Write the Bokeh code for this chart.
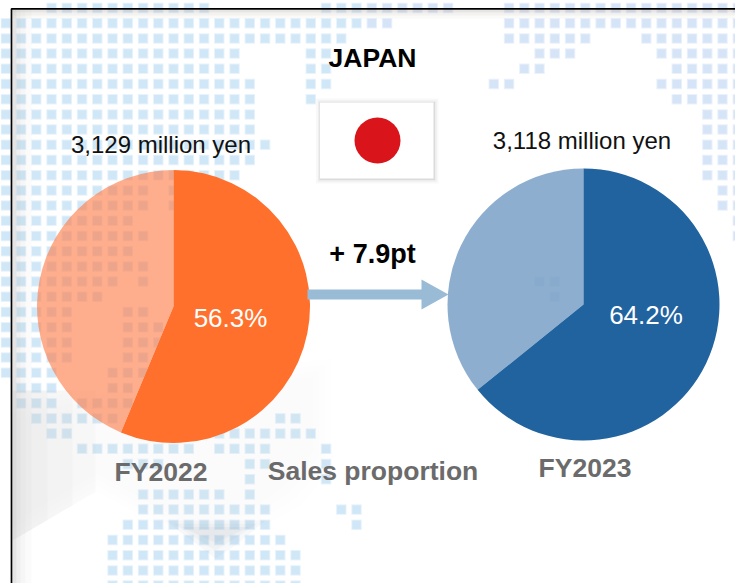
from math import pi
from bokeh.embed import file_html
from bokeh.resources import INLINE
from bokeh.plotting import figure
from bokeh.core.properties import value

# ---- chart data ----
fiscal_years = ["FY2022", "FY2023"]
japan_share = [56.3, 64.2]
share_labels = ["56.3%", "64.2%"]
sales_labels = ["3,129 million yen", "3,118 million yen"]
change_label = "+ 7.9pt"
title_label = "JAPAN"
measure_label = "Sales proportion"

# ---- decorative dotted map: row -> runs of grid columns ----
map_rows = {
    0: [(3, 13), (21, 29), (33, 48)],
    1: [(0, 25), (33, 48)], 2: [(0, 22), (33, 38), (42, 48)],
    3: [(0, 15), (20, 21), (35, 37), (43, 48)], 4: [(0, 15), (20, 21), (34, 35), (44, 48)],
    5: [(0, 16), (20, 21), (32, 33), (43, 48)], 6: [(0, 16), (20, 20), (44, 48)],
    7: [(0, 16), (46, 48)], 8: [(0, 16), (46, 48)], 9: [(0, 17), (46, 48)],
    10: [(0, 16), (46, 48)], 11: [(0, 15), (46, 48)], 12: [(0, 9), (11, 11), (47, 48)],
    13: [(0, 9), (11, 11), (47, 48)], 14: [(0, 8), (48, 48)], 15: [(0, 9), (48, 48)],
    16: [(0, 8)], 17: [(0, 9)], 18: [(0, 7), (9, 9), (35, 36)], 19: [(0, 6), (36, 36)],
    20: [(0, 4), (8, 9)], 21: [(0, 4), (8, 10)], 22: [(0, 4), (8, 10)], 23: [(0, 4), (8, 9)],
    24: [(0, 3), (7, 9)], 25: [(1, 3), (7, 8)], 26: [(1, 3), (5, 8)], 27: [(2, 7), (18, 19)],
    28: [(3, 4), (14, 20)], 29: [(5, 12), (14, 17), (21, 21)], 30: [(8, 10), (16, 17), (21, 21)],
    31: [(16, 16), (21, 21)], 32: [(9, 14), (16, 16)], 33: [(9, 17), (22, 23)],
    34: [(8, 17), (23, 23)], 35: [(7, 18)], 36: [(7, 19)], 37: [(7, 19)], 38: [(7, 19)],
}

# ---- page layout, in pixels of the 735x583 window ----
GRID_X0, GRID_DX, GRID_Y0, GRID_DY = 5.3, 15.25, 7.5, 15.2
PIE_X = [173, 583]
PIE_Y = [306, 304]
PIE_R = [136.5, 136]
DARK = ["#FF702D", "#21639F"]
LIGHT = ["#FF7841", "#79A0C6"]
LIGHT_ALPHA = [0.6, 0.85]
GREY = "#6B6B6B"
FONT = value("Liberation Sans")

p = figure(width=735, height=583, x_range=(0, 735), y_range=(583, 0),
           x_axis_type=None, y_axis_type=None, toolbar_location=None,
           output_backend="svg", min_border=0, outline_line_color=None,
           background_fill_color="white", border_fill_color="white")
p.grid.visible = False

# dots
dx, dy, dc = [], [], []
for r, runs in map_rows.items():
    for a, b in runs:
        for c in range(a, b + 1):
            dx.append(GRID_X0 + GRID_DX * c)
            dy.append(GRID_Y0 + GRID_DY * r)
            dc.append("#D2E2F6" if c >= 24 else "#CBE4F6")
p.rect(dx, dy, width=10.5, height=10.5, color=dc, alpha=0.45, line_color=None)
p.rect(dx, dy, width=8.5, height=8.5, color=dc, alpha=0.85, line_color=None)

# soft grey shading of the backdrop
for g, a in [(0, 0.04), (6, 0.04), (12, 0.04), (18, 0.04)]:
    p.patch([12, 330 - g, 330 - g, 300 - g, 210, 97, 12],
            [400 + g, 358 + g, 470 - g, 505 - g, 555 - g, 491 - g, 540 - g],
            color="#DDDDDD", line_alpha=0, fill_alpha=a)
for w, a in [(83, 0.07), (60, 0.07), (35, 0.07)]:
    p.patch([12, 12 + w, 12 + w, 12], [390, 390, 491 + (83 - w) * 0.6, 540],
            color="#CCCCCC", line_alpha=0, fill_alpha=a)
for g, a in [(0, 0.05), (8, 0.05), (16, 0.06)]:
    p.patch([165 + g, 265 - g, 235 - g, 215], [520 + g * 0.4, 520 + g * 0.4, 545 - g * 0.3, 558 - g],
            color="#7F8E9C", line_alpha=0, fill_alpha=a)
for x, w, a in [(12, 4, 0.36), (16, 4, 0.22), (20, 5, 0.12), (25, 6, 0.05)]:
    p.quad(left=x, right=x + w, top=9, bottom=583, color="#B8B8B8", alpha=a, line_color=None)
for y, h, a in [(9, 3, 0.4), (12, 3, 0.2), (15, 3, 0.08)]:
    p.quad(left=12, right=735, top=y, bottom=y + h, color="#C4BEB8", alpha=a, line_color=None)

# frame (left and top edges)
p.line([11, 11, 735], [583, 8.3, 8.3], line_color="black", line_width=1.7)

# pies
for i in range(2):
    split = pi / 2 - 2 * pi * japan_share[i] / 100
    p.wedge(x=PIE_X[i], y=PIE_Y[i], radius=PIE_R[i], start_angle=split, end_angle=pi / 2 - 2 * pi,
            direction="clock", color=LIGHT[i], alpha=LIGHT_ALPHA[i], line_color=None)
    p.wedge(x=PIE_X[i], y=PIE_Y[i], radius=PIE_R[i], start_angle=pi / 2, end_angle=split,
            direction="clock", color=DARK[i], line_color=None)

# arrow
p.patch([307, 421, 421, 448, 421, 421, 307], [289, 289, 279, 294, 309, 299, 299],
        color="#9ABBD6", line_color=None)

# flag
for g, a in [(5, 0.05), (3, 0.08), (1.5, 0.14)]:
    p.quad(left=319.5 - g + 1, right=433 + g, top=102 - g + 1, bottom=178 + g,
           color="#707070", alpha=a, line_color=None)
p.quad(left=319.5, right=433, top=102, bottom=178, color="white", line_color=None)
p.scatter([377], [140], size=46, color="#D9141A", line_color=None)


def label(x, y, text, size, color, bold=False):
    # y is the visual baseline; this SVG text sits lower than the requested anchor
    p.text([x], [y - 0.38 * size], text=[text], text_font=FONT, text_font_size=f"{size}px",
           text_color=color, text_font_style="bold" if bold else "normal",
           text_align="center", text_baseline="alphabetic")


label(372, 68, title_label, 26.5, "black", True)
label(160.5, 153, sales_labels[0], 24, "#111111")
label(581.5, 149.5, sales_labels[1], 24, "#111111")
label(230, 327, share_labels[0], 26, "white")
label(645.5, 324, share_labels[1], 26, "white")
label(372, 264, change_label, 27, "black", True)
label(160.5, 482, fiscal_years[0], 26.5, GREY, True)
label(584.5, 478, fiscal_years[1], 26.5, GREY, True)
label(372.5, 481, measure_label, 26.5, GREY, True)

open("out.html", "w").write(file_html(p, INLINE))
